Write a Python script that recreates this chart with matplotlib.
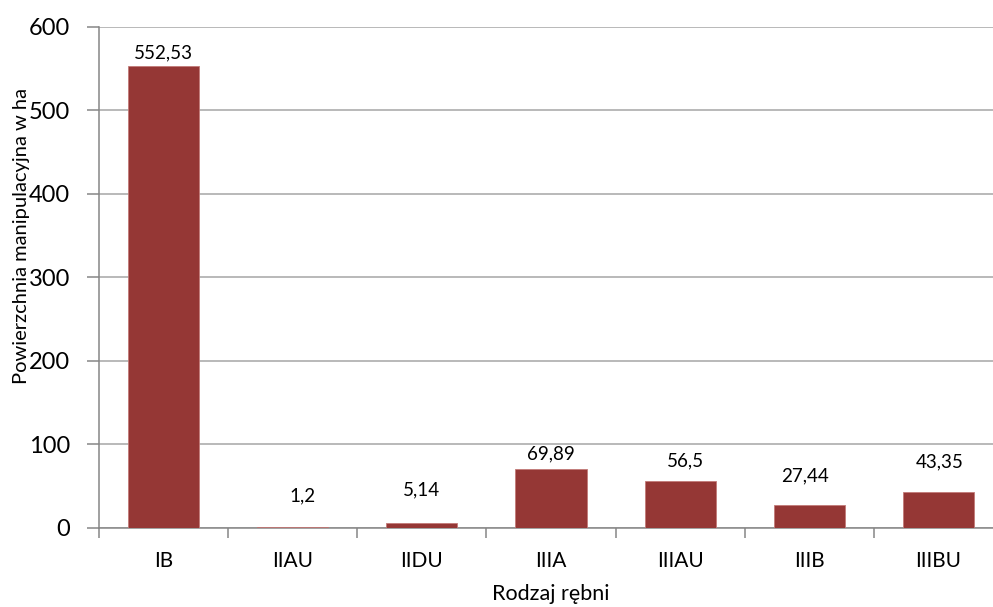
import matplotlib
matplotlib.use("Agg")
import matplotlib.pyplot as plt
import numpy as np

categories = ["IB", "IIAU", "IIDU", "IIIA", "IIIAU", "IIIB", "IIIBU"]
values = [552.53, 1.2, 5.14, 69.89, 56.5, 27.44, 43.35]
value_labels = ["552,53", "1,2", "5,14", "69,89", "56,5", "27,44", "43,35"]
y_ticks = [0, 100, 200, 300, 400, 500, 600]

# label placement nudges (points), as in the original chart
label_dx = [0, 7, 0, 0, 4, -3, 1]
label_dy = [10, 22, 24, 11, 14, 21, 21]

BAR, GRID, AXIS = "#953735", "#a6a6a6", "#868686"
plt.rcParams["font.family"] = ["Lato", "DejaVu Sans"]

fig = plt.figure(figsize=(9.93, 6.07), dpi=100)
ax = fig.add_axes([99 / 993, 1 - 527.7 / 607, (1003 - 99) / 993, 501 / 607])

x = np.arange(len(categories))
ax.bar(x, values, width=0.55, color=BAR, edgecolor="#c27a78", linewidth=0.6, zorder=3)

for xi, v, lab, dx, dy in zip(x, values, value_labels, label_dx, label_dy):
    ax.annotate(lab, (xi, v), xytext=(dx, dy), textcoords="offset points",
                ha="center", va="center", fontsize=13.5, color="#000000")

ax.set_xlim(-0.5, len(categories) - 0.5)
ax.set_ylim(0, 600)
ax.set_yticks(y_ticks)
ax.set_yticklabels([str(t) for t in y_ticks], fontsize=17)
ax.yaxis.grid(True, color=GRID, linewidth=1.1, zorder=0)
ax.set_axisbelow(True)

ax.set_xticks(x)
ax.set_xticklabels(categories, fontsize=15)
ax.set_xticks(np.arange(len(categories) + 1) - 0.5, minor=True)
ax.tick_params(axis="x", which="major", length=0, pad=17)
ax.tick_params(axis="x", which="minor", length=7, color=AXIS, width=1.1)
ax.tick_params(axis="y", length=9, color=AXIS, width=1.1, pad=12)

for s in ["top", "right"]:
    ax.spines[s].set_visible(False)
for s in ["left", "bottom"]:
    ax.spines[s].set_color(AXIS)
    ax.spines[s].set_linewidth(1.1)

ax.set_xlabel("Rodzaj rębni", fontsize=15.5)
ax.xaxis.set_label_coords(551 / 993, 1 - 594 / 607, transform=fig.transFigure)
ax.xaxis.label.set_va("center")
ax.set_ylabel("Powierzchnia manipulacyjna w ha", fontsize=14.5)
ax.yaxis.set_label_coords(22 / 993, 1 - 236 / 607, transform=fig.transFigure)
ax.yaxis.label.set_va("center")

fig.savefig("out.png", dpi=100)
